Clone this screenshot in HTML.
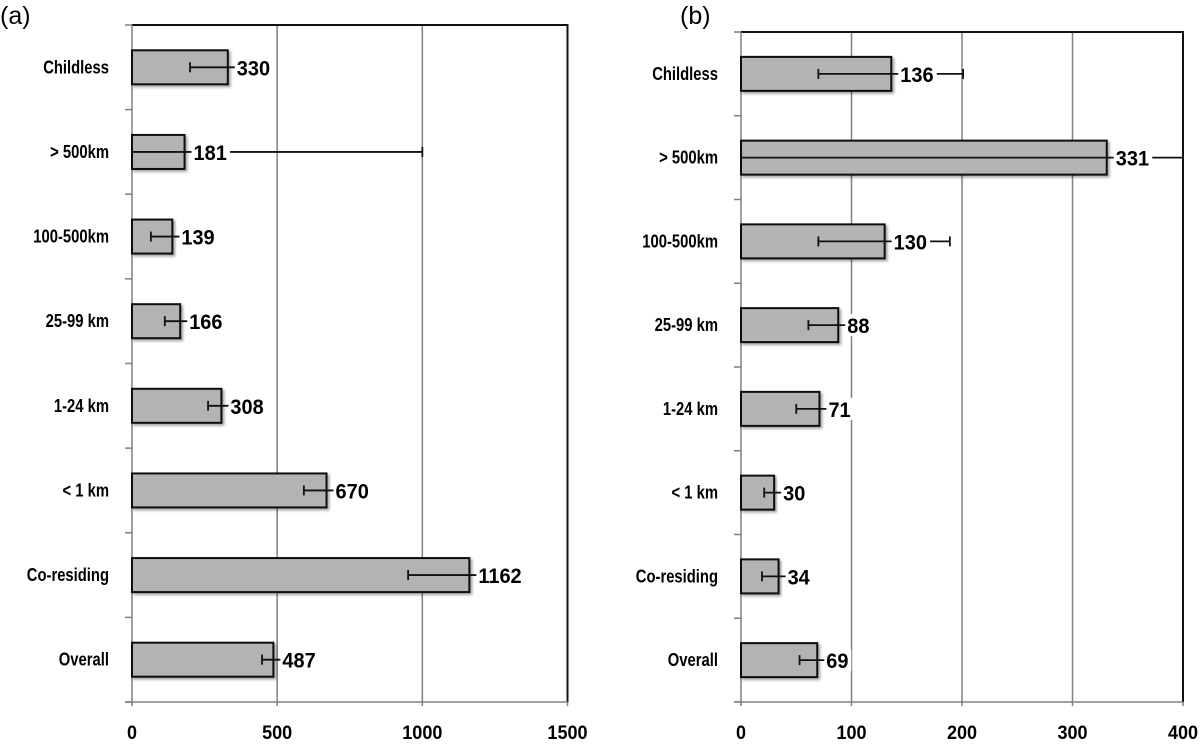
<!DOCTYPE html>
<html><head><meta charset="utf-8"><style>
body{margin:0;background:#fff;}
svg text{font-family:"Liberation Sans",sans-serif;}
</style></head><body>
<svg id="chart" width="1200" height="749" viewBox="0 0 1200 749" xmlns="http://www.w3.org/2000/svg">
<defs><filter id="sh" x="-5%" y="-20%" width="115%" height="150%"><feDropShadow dx="2" dy="2" stdDeviation="1.2" flood-color="#000" flood-opacity="0.35"/></filter></defs>
<text x="0" y="24" font-size="25">(a)</text>
<text x="680" y="24" font-size="25">(b)</text>
<g id="pa"></g>
<g id="pb"></g>
</svg>
<script>
const categories = ["Childless", "> 500km", "100-500km", "25-99 km", "1-24 km", "< 1 km", "Co-residing", "Overall"];
const valuesA = [330, 181, 139, 166, 308, 670, 1162, 487];
const errLoA = [200, -50, 65, 113, 262, 592, 951, 448];
const errHiA = [460, 1000, 213, 219, 354, 748, 1216, 526];
const ticksA = [0, 500, 1000, 1500];
const valuesB = [136, 331, 130, 88, 71, 30, 34, 69];
const errLoB = [70, -20, 70, 61, 50, 21, 19, 53];
const errHiB = [201, 400, 189, 115, 92, 39, 49, 85];
const ticksB = [0, 100, 200, 300, 400];
const NS = "http://www.w3.org/2000/svg";
function mk(parent, tag, attrs){const e=document.createElementNS(NS,tag);for(const k in attrs)e.setAttribute(k,attrs[k]);parent.appendChild(e);return e;}
function squeeze(t,f){const w=t.getComputedTextLength();t.setAttribute('textLength',(w*f).toFixed(1));t.setAttribute('lengthAdjust','spacingAndGlyphs');}
function panel(gid, cfg){
  const g=document.getElementById(gid);
  const {x0,x1,top,bottom,max,vals,lo,hi,ticks,labelX,key}=cfg;
  const xs=v=>x0+(x1-x0)*v/max;
  const rowH=(bottom-top)/categories.length;
  const yc=i=>top+rowH*(i+0.5);
  const barH=34;
  ticks.forEach((t,i)=>{
    if(t===0||t===max)return;
    const l=mk(g,"line",{x1:xs(t),x2:xs(t),y1:top,y2:bottom,stroke:"#808080","stroke-width":1.5});
    
    
  });
  const fr=mk(g,"path",{d:`M${x0},${top} L${x1},${top} L${x1},${bottom}`,fill:"none",stroke:"#111","stroke-width":2});
  
  
  const ya=mk(g,"line",{x1:x0,x2:x0,y1:top,y2:bottom+3,stroke:"#808080","stroke-width":1.5});
  
  
  const xa=mk(g,"line",{x1:x0-7,x2:x1,y1:bottom,y2:bottom,stroke:"#808080","stroke-width":1.5});
  
  
  for(let i=0;i<=categories.length;i++){
    const t=mk(g,"line",{x1:x0-7,x2:x0,y1:top+rowH*i,y2:top+rowH*i,stroke:"#808080","stroke-width":1.5});
    
    
  }
  ticks.forEach(t=>{
    const tk=mk(g,"line",{x1:xs(t),x2:xs(t),y1:bottom,y2:bottom+4,stroke:"#808080","stroke-width":1.5});
    
    
    const tl=mk(g,"text",{x:xs(t),y:739,"font-size":19,"font-weight":"bold","text-anchor":"middle"});
    tl.textContent=t;
    
    
    squeeze(tl,0.95);
  });
  categories.forEach((c,i)=>{
    const y=yc(i);
    const cl=mk(g,"text",{x:labelX,y:y+6,"font-size":18.5,"font-weight":"bold","text-anchor":"end"});
    cl.textContent=c;
    
    
    squeeze(cl,0.8);
    const b=mk(g,"rect",{x:x0,y:y-barH/2,width:xs(vals[i])-x0,height:barH,fill:"#b3b3b3",stroke:"#111","stroke-width":2,filter:"url(#sh)"});
    
    
    const l=Math.max(lo[i],0),h=Math.min(hi[i],max);
    const e=mk(g,"line",{x1:xs(l),x2:xs(h),y1:y,y2:y,stroke:"#111","stroke-width":1.8});
    
    
    [[lo[i],l],[hi[i],h]].forEach(([raw,v])=>{
      if(raw<0||raw>max)return;
      const c2=mk(g,"line",{x1:xs(v),x2:xs(v),y1:y-5,y2:y+5,stroke:"#111","stroke-width":1.8});
      
      
    });
    const tx=xs(vals[i])+9;
    const w=String(vals[i]).length*11.5+4;
    const bg=mk(g,"rect",{x:tx-2,y:y-11,width:w,height:22,fill:"#fff"});
    
    
    const vl=mk(g,"text",{x:tx,y:y+8,"font-size":21,"font-weight":"bold"});
    vl.textContent=vals[i];
    
    
    squeeze(vl,0.95);
  });
}
panel("pa",{x0:132,x1:567.5,top:25,bottom:702,max:1500,vals:valuesA,lo:errLoA,hi:errHiA,ticks:ticksA,labelX:109,key:"a"});
panel("pb",{x0:741,x1:1183,top:32,bottom:702,max:400,vals:valuesB,lo:errLoB,hi:errHiB,ticks:ticksB,labelX:718,key:"b"});
</script>
</body></html>
